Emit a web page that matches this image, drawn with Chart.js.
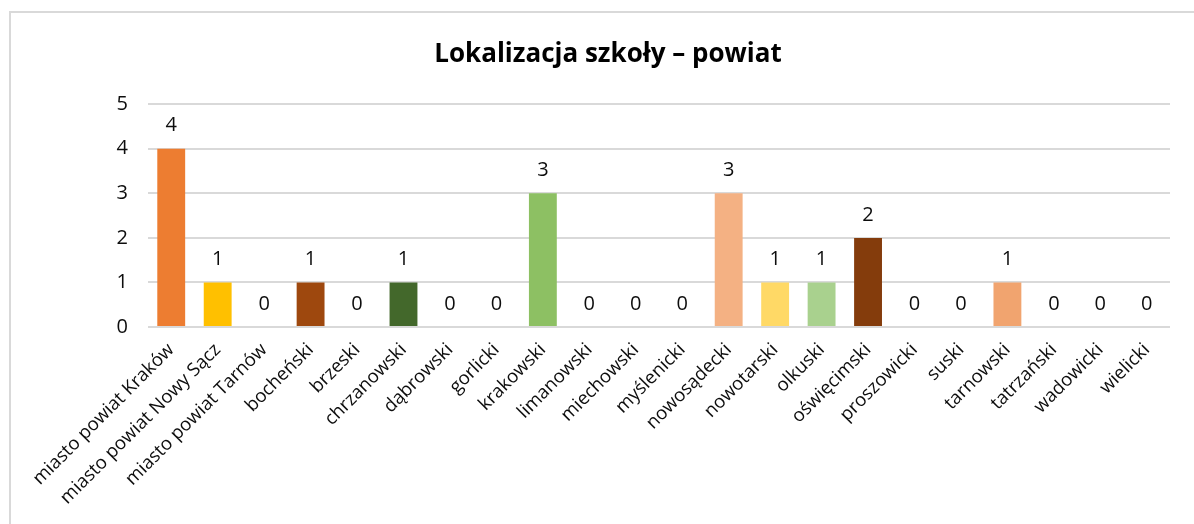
<!DOCTYPE html>
<html>
<head>
<meta charset="utf-8">
<script src="https://cdn.jsdelivr.net/npm/chart.js@4"></script>
<style>
  html, body { margin: 0; padding: 0; background: #fff; overflow: hidden; }
  #frame {
    position: absolute; left: 9px; top: 11px;
    width: 1198px; height: 520px;
    border: 2px solid #d9d9d9; box-sizing: border-box;
  }
  #wrap { position: absolute; left: 9px; top: 11px; width: 1198px; height: 513px; }
</style>
</head>
<body>
<div id="frame"></div>
<div id="wrap"><canvas id="chart"></canvas></div>
<script>
// ─── DATA ─────────────────────────────────────────────────
const TITLE = 'Lokalizacja szkoły – powiat';
const categories = [
  'miasto powiat Kraków', 'miasto powiat Nowy Sącz', 'miasto powiat Tarnów',
  'bocheński', 'brzeski', 'chrzanowski', 'dąbrowski', 'gorlicki', 'krakowski',
  'limanowski', 'miechowski', 'myślenicki', 'nowosądecki', 'nowotarski',
  'olkuski', 'oświęcimski', 'proszowicki', 'suski', 'tarnowski', 'tatrzański',
  'wadowicki', 'wielicki'
];
const values = [4, 1, 0, 1, 0, 1, 0, 0, 3, 0, 0, 0, 3, 1, 1, 2, 0, 0, 1, 0, 0, 0];
const barColors = [
  '#ED7D31', '#FFC000', '#A5A5A5', '#9E480E', '#997300', '#43682B', '#636363', '#264478',
  '#8DC063', '#5B9BD5', '#FFD966', '#F4B183', '#F4B183', '#FFD966', '#A9D18E', '#843C0C',
  '#7F6000', '#9DC3E6', '#F1A46F', '#C9C9C9', '#BF9000', '#548235'
];
const yTicks = [0, 1, 2, 3, 4, 5];

// ─── STYLE ────────────────────────────────────────────────
const FONT = "'Open Sans', sans-serif";
const TEXT = '#0d0d0d';
const GRID = '#d9d9d9';

// data labels above each bar
const valueLabels = {
  id: 'valueLabels',
  afterDatasetsDraw(chart) {
    const { ctx } = chart;
    const meta = chart.getDatasetMeta(0);
    ctx.save();
    ctx.font = `20px ${FONT}`;
    ctx.fillStyle = TEXT;
    ctx.textAlign = 'center';
    ctx.textBaseline = 'middle';
    meta.data.forEach((bar, i) => {
      ctx.fillText(String(values[i]), bar.x, bar.y - 23);
    });
    ctx.restore();
  }
};

new Chart(document.getElementById('chart'), {
  type: 'bar',
  data: {
    labels: categories,
    datasets: [{
      data: values,
      backgroundColor: barColors,
      borderWidth: 0,
      categoryPercentage: 1,
      barPercentage: 0.6,
    }],
  },
  options: {
    responsive: true,
    maintainAspectRatio: false,
    animation: false,
    layout: { padding: { left: 37, right: 37, top: 0, bottom: 0 } },
    plugins: {
      legend: { display: false },
      tooltip: { enabled: false },
      title: {
        display: true,
        text: TITLE,
        color: '#000',
        font: { family: FONT, size: 26, weight: 'bold', lineHeight: 1.2 },
        padding: { top: 28, bottom: 34 },
      },
    },
    scales: {
      x: {
        grid: { display: false },
        border: { display: false },
        ticks: {
          color: TEXT,
          font: { family: FONT, size: 18.5 },
          minRotation: 45,
          maxRotation: 45,
          autoSkip: false,
          padding: 4,
        },
        afterFit: (s) => { s.height = 197; },
      },
      y: {
        min: 0,
        max: 5,
        afterBuildTicks: (s) => { s.ticks = yTicks.map(v => ({ value: v })); },
        grid: { color: GRID, lineWidth: 2, drawTicks: false },
        border: { display: false },
        ticks: {
          color: TEXT,
          font: { family: FONT, size: 20 },
          padding: 20,
        },
        afterFit: (s) => { s.width = 102; },
      },
    },
  },
  plugins: [valueLabels],
});
</script>
</body>
</html>
